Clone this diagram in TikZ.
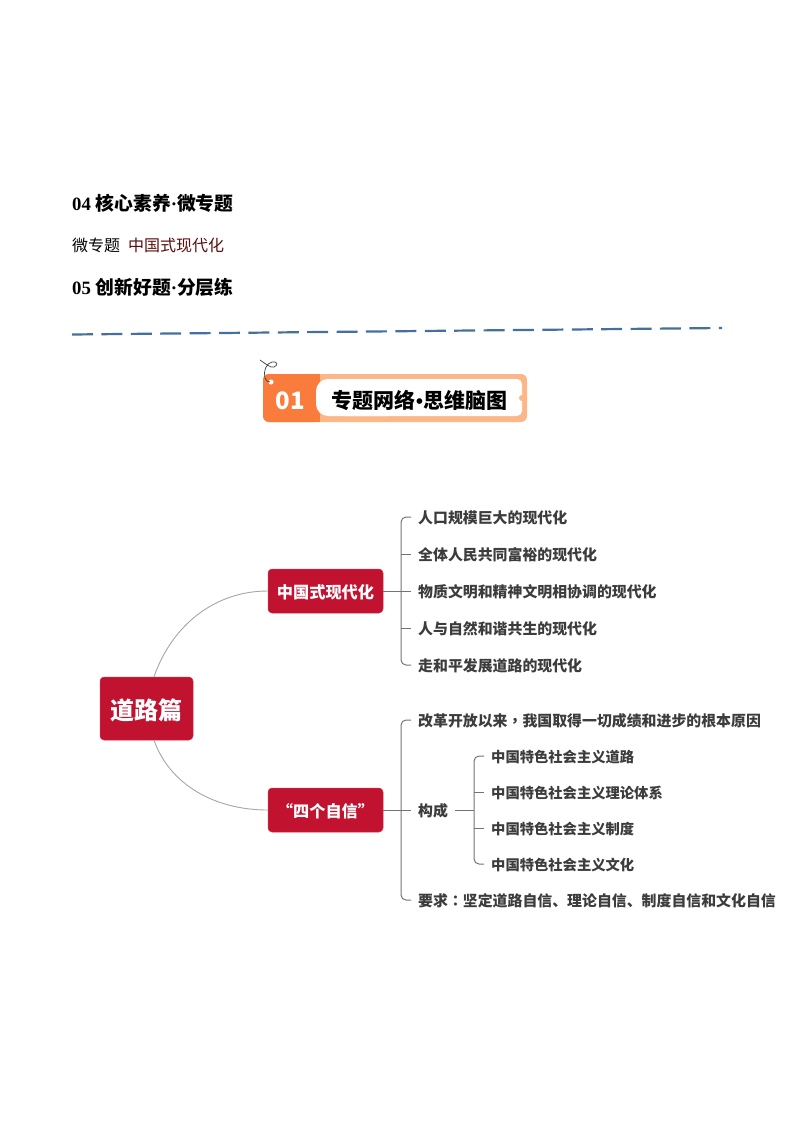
\documentclass[tikz,border=0pt]{standalone}
\usepackage{fontspec}
\setmainfont{Noto Sans CJK SC}
\newfontfamily\latinserif{Liberation Serif}
\newfontfamily\tcfont{Noto Sans CJK TC}
\newcommand{\dropbox}[2]{\raisebox{-#1}[\dimexpr\height+#1\relax][\dimexpr\depth+#1\relax]{#2}}
\definecolor{mapred}{HTML}{C1122F}
\definecolor{mapedge}{HTML}{D8304C}
\definecolor{maptext}{HTML}{3C3C3C}
\definecolor{deepor}{HTML}{F97C3C}
\definecolor{lightor}{HTML}{FDB687}
\definecolor{dashblue}{HTML}{44709F}
\definecolor{subred}{HTML}{5A0E0E}
\tikzset{
  headline/.style={anchor=west,inner sep=0pt,font=\fontsize{18.8}{19}\selectfont\bfseries,text=black},
  rootbox/.style={rectangle,rounded corners=4pt,fill=mapred,draw=mapedge,line width=0.5pt,text=white,font=\fontsize{24}{24}\selectfont\bfseries,minimum width=93pt,minimum height=63pt,inner sep=0pt},
  midbox/.style={rectangle,rounded corners=4pt,fill=mapred,draw=mapedge,line width=0.5pt,text=white,font=\fontsize{16.2}{16.2}\selectfont\bfseries,minimum width=115pt,minimum height=44pt,inner sep=0pt},
  leaf/.style={anchor=west,inner xsep=7pt,inner ysep=0pt,text=maptext,font=\fontsize{14.9}{15}\selectfont\bfseries},
  subleaf/.style={anchor=west,inner xsep=7pt,inner ysep=0pt,text=maptext,font=\fontsize{14.3}{15}\selectfont\bfseries},
  curveline/.style={draw=black!35,line width=0.9pt},
  branch/.style={draw=black!55,line width=1pt,rounded corners=5pt},
}
\begin{document}
\begin{tikzpicture}[x=1pt,y=-1pt]
\useasboundingbox (0,0) rectangle (794,1123);
% headings
\node[headline] (h1) at (72,203) {{\latinserif 04 }核心素养{\latinserif ·}微专题};
\node[anchor=west,inner sep=0pt,font=\fontsize{16}{16}\selectfont] (h2) at (72,245) {微专题\hspace{8pt}\textcolor{subred}{中国式现代化}};
\node[headline] (h3) at (72,287) {{\latinserif 05 }创新好题{\latinserif ·}分层练};
\coordinate (dashA) at (72,334.5);
\coordinate (dashB) at (722,328);
\draw[dashblue,line width=2.2pt,dash pattern=on 21pt off 8.4pt] (dashA) -- (dashB);
% banner
\fill[lightor,rounded corners=6pt] (263,374) rectangle (527,422);
\fill[deepor,rounded corners=6pt] (263,374) -- (320,374) -- (320,422) -- (263,422) -- cycle;
\fill[deepor] (312,374) rectangle (320,422);
\fill[white,rounded corners=12pt] (316,379) rectangle (400,416);
\fill[white,rounded corners=5pt] (340,379) rectangle (522,416);
\fill[lightor] (522,398) circle (3pt);
\fill[white] (271,382) circle (2.5pt);
\draw[black!75,line width=0.7pt] (260,360) .. controls (266,364) and (270,368) .. (274,367)
  .. controls (279,365) and (277,361) .. (272,362)
  .. controls (266,363) and (263,372) .. (265,378)
  .. controls (266,381) and (268,382) .. (270,382);
\node[font=\fontsize{24}{24}\selectfont\bfseries,text=white,inner sep=0pt] (num) at (290,400.5) {01};
\node[font=\fontsize{21}{21}\selectfont\bfseries,text=black,inner sep=0pt] (title) at (419.5,400) {专题网络{\latinserif\textbullet}思维脑图};
% map
\node[rootbox] (root) at (146.5,708.5) {\dropbox{1.5pt}{道路篇}};
\node[midbox] (m1) at (325.5,591) {\dropbox{1pt}{中国式现代化}};
\node[midbox] (m2) at (325.5,810) {\dropbox{1pt}{“四个自信”}};
\foreach \n/\y/\t in {a1/517/人口规模巨大的现代化,a2/554/全体人民共同富裕的现代化,a3/591/物质文明和精神文明相协调的现代化,a4/628/人与自然和谐共生的现代化,a5/665/走和平发展道路的现代化,b1/720/改革开放以来{\tcfont ，}我国取得一切成绩和进步的根本原因,b2/810/构成,b3/900/要求{\tcfont ：}坚定道路自信、理论自信、制度自信和文化自信}
  \node[leaf] (\n) at (411,\y) {\dropbox{0.7pt}{\t}};
\foreach \n/\y/\t in {c1/756/中国特色社会主义道路,c2/792/中国特色社会主义理论体系,c3/828/中国特色社会主义制度,c4/864/中国特色社会主义文化}
  \node[subleaf] (\n) at (484,\y) {\dropbox{0.7pt}{\t}};
\coordinate (r1) at ([xshift=7.5pt]root.north);
\coordinate (r2) at ([xshift=7.5pt]root.south);
\draw[curveline] (r1) .. controls (172,625) and (215,591) .. (m1.west);
\draw[curveline] (r2) .. controls (170,785) and (215,810) .. (m2.west);
% first group
\draw[branch] (m1.east) -- (a3.west);
\draw[branch] (a1.west) -- ++(-10,0) |- (a5.west);
\foreach \n in {a2,a4} \draw[branch] (\n.west) -- ++(-10,0);
% second group
\draw[branch] (m2.east) -- (b2.west);
\draw[branch] (b1.west) -- ++(-10,0) |- (b3.west);
% sub group
\draw[branch] (c1.west) -- ++(-10,0) |- (c4.west);
\foreach \n in {c2,c3} \draw[branch] (\n.west) -- ++(-10,0);
\coordinate (subjoin) at (474,810);
\draw[branch] (b2.east) -- (subjoin);
\end{tikzpicture}
\end{document}
